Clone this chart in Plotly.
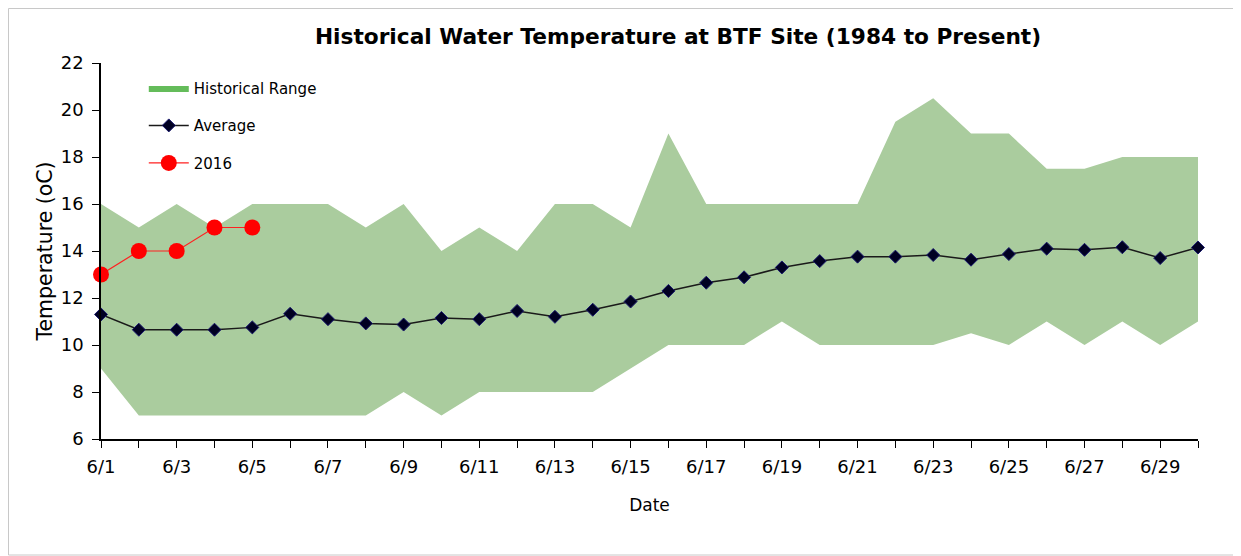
import plotly.graph_objects as go

days = list(range(1, 31))
day_labels = [f"6/{d}" for d in days]
tick_text = [lab if d % 2 == 1 else "" for d, lab in zip(days, day_labels)]

hist_max = [16, 15, 16, 15, 16, 16, 16, 15, 16, 14, 15, 14, 16, 16, 15, 19, 16, 16, 16, 16,
            16, 19.5, 20.5, 19, 19, 17.5, 17.5, 18, 18, 18]
hist_min = [9, 7, 7, 7, 7, 7, 7, 7, 8, 7, 8, 8, 8, 8, 9, 10, 10, 10, 11, 10,
            10, 10, 10, 10.5, 10, 11, 10, 11, 10, 11]
average = [11.3, 10.65, 10.65, 10.65, 10.75, 11.33, 11.1, 10.92, 10.87, 11.15, 11.1, 11.45,
           11.2, 11.5, 11.85, 12.3, 12.65, 12.88, 13.3, 13.57, 13.76, 13.76, 13.83, 13.63,
           13.87, 14.1, 14.05, 14.16, 13.7, 14.15]
y2016_days = [1, 2, 3, 4, 5]
y2016 = [13, 14, 14, 15, 15]

yticks = list(range(6, 23, 2))

FONT = "DejaVu Sans"
# page has an 8px body margin; figure sized so the plot lands where the reference has it
W, H = 1233, 548
ML, MT = 93, 55
PW, PH = 1097, 376
MR = W - ML - PW
MB = H - MT - PH

fig = go.Figure()
fig.add_trace(go.Scatter(x=days, y=hist_min, mode="lines", line=dict(width=0),
                         showlegend=False, hoverinfo="skip"))
fig.add_trace(go.Scatter(x=days, y=hist_max, mode="lines", line=dict(width=0),
                         fill="tonexty", fillcolor="rgb(170,204,158)",
                         name="Historical Range", showlegend=False))
# legend swatch entry (brighter green, as in the reference legend)
fig.add_trace(go.Scatter(x=[None], y=[None], mode="lines", line=dict(width=0),
                         fill="toself", fillcolor="rgb(100,188,90)",
                         name="Historical Range", legendgroup="g0"))
fig.add_trace(go.Scatter(x=days, y=average, mode="lines+markers", name="Average",
                         line=dict(color="#1a1a1a", width=1.5),
                         marker=dict(symbol="diamond", size=10, color="#000022",
                                     line=dict(color="#1a1a6e", width=1)),
                         legendgroup="g1", cliponaxis=False))
fig.add_trace(go.Scatter(x=y2016_days, y=y2016, mode="lines+markers", name="2016",
                         line=dict(color="#ff2020", width=1.2),
                         marker=dict(symbol="circle", size=16, color="#ff0000"),
                         legendgroup="g2", cliponaxis=False))

fig.add_shape(type="rect", xref="paper", yref="paper",
              x0=(0.5 - ML) / PW, x1=(W - 1.5 - ML) / PW,
              y0=-(H - 1 - MT - PH) / PH, y1=1 + (MT - 0.5) / PH,
              line=dict(color="#c8c8c8", width=1), layer="below")

fig.update_layout(
    width=W, height=H,
    margin=dict(l=ML, r=MR, t=MT, b=MB),
    paper_bgcolor="white", plot_bgcolor="white",
    font=dict(family=FONT, color="black"),
    title=dict(text="<b>Historical Water Temperature at BTF Site (1984 to Present)</b>",
               x=670 / W, xanchor="center", y=1 - 28 / H, yanchor="middle",
               font=dict(family=FONT, size=21.7, color="black")),
    legend=dict(x=0.039, y=0.977, xanchor="left", yanchor="top",
                bgcolor="rgba(0,0,0,0)", font=dict(size=15, family=FONT),
                traceorder="grouped", tracegroupgap=15, itemwidth=40),
    showlegend=True,
)
fig.update_xaxes(range=[1, 30], tickvals=days, ticktext=tick_text,
                 ticks="outside", ticklen=7, tickcolor="black", tickwidth=1,
                 showline=True, linecolor="black", linewidth=1.5,
                 showgrid=False, zeroline=False, ticklabelstandoff=4,
                 tickfont=dict(size=18, family=FONT),
                 title=dict(text="Date", font=dict(size=17, family=FONT), standoff=23))
fig.update_yaxes(range=[6, 22], tickvals=yticks,
                 ticks="outside", ticklen=7, tickcolor="black", tickwidth=1,
                 showline=True, linecolor="black", linewidth=1.5,
                 showgrid=False, zeroline=False, ticklabelstandoff=5,
                 tickfont=dict(size=18, family=FONT),
                 title=dict(text="Temperature (oC)", font=dict(size=20.5, family=FONT), standoff=3))

fig.write_html("out.html")
